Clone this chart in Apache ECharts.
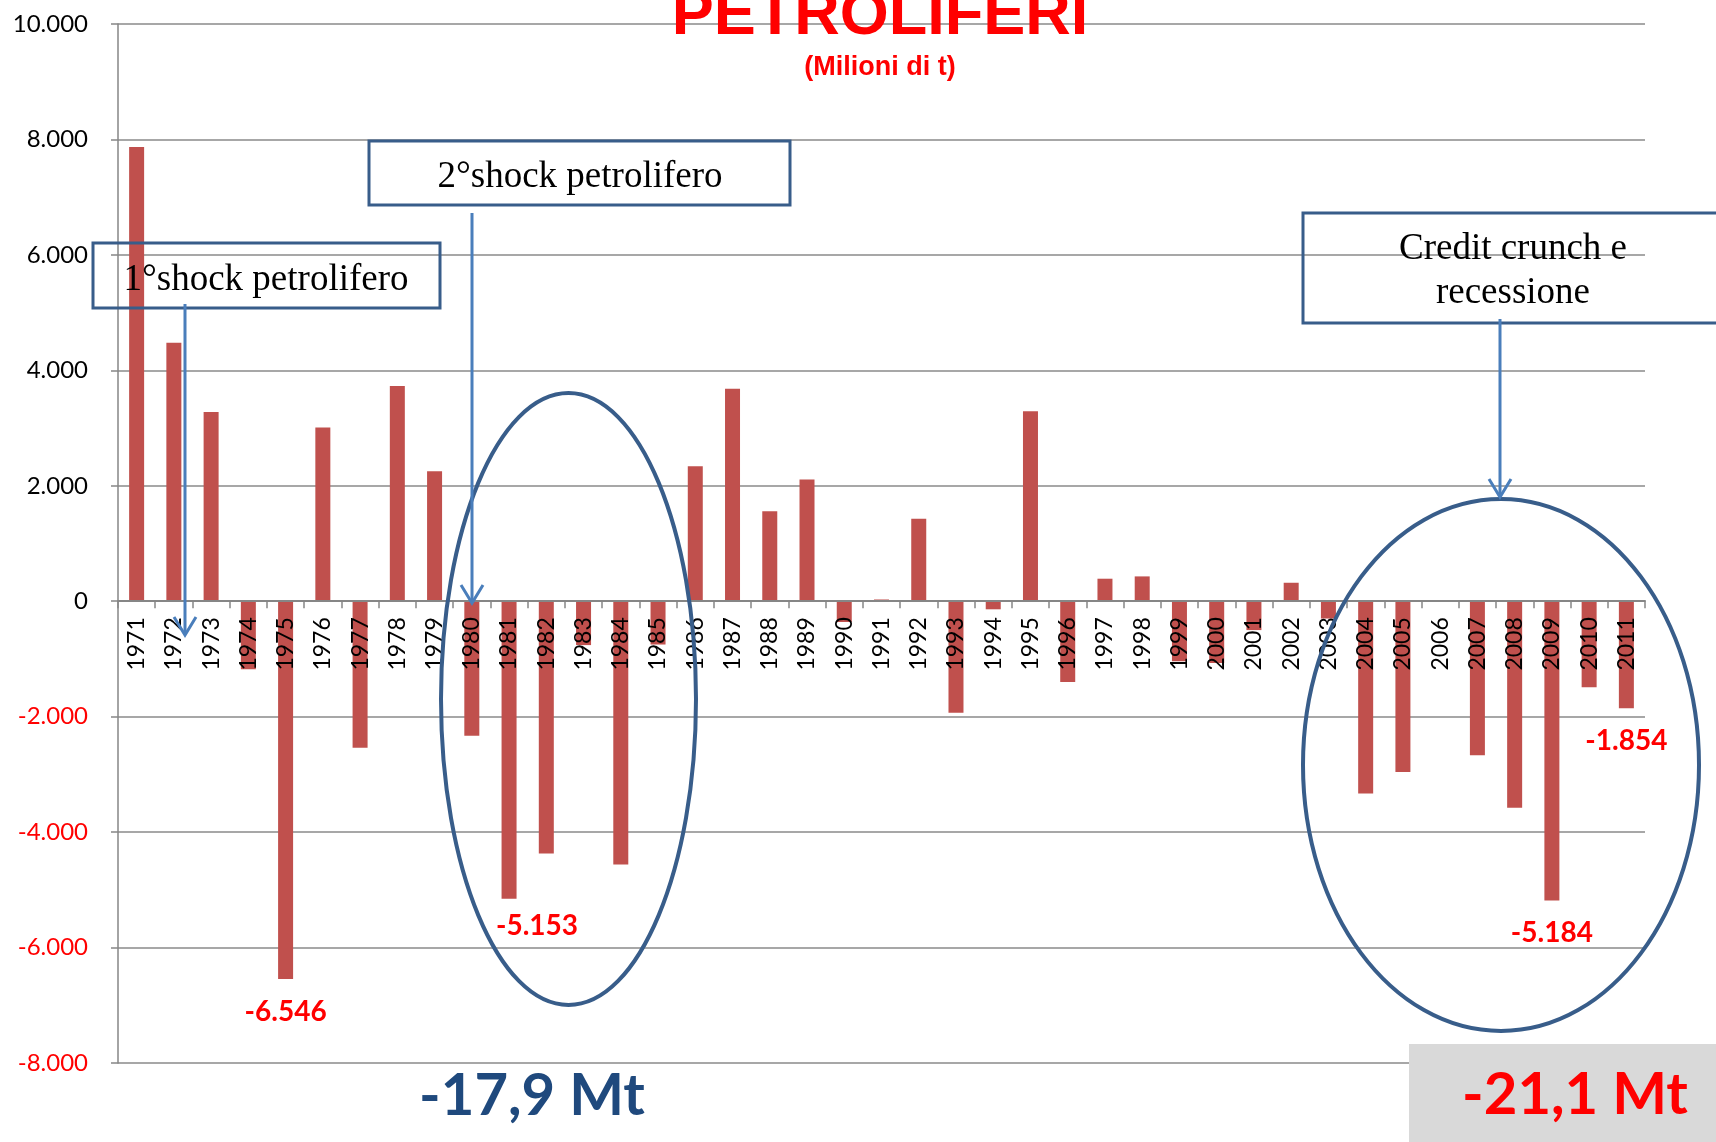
<!DOCTYPE html>
<html>
<head>
<meta charset="utf-8">
<script src="https://cdn.jsdelivr.net/npm/echarts@6/dist/echarts.min.js"></script>
<style>
  html, body { margin: 0; padding: 0; background: #fff; }
  #chart { width: 1716px; height: 1142px; }
</style>
</head>
<body>
<div id="chart"></div>
<script>
// anni (categorie)
var years = ['1971','1972','1973','1974','1975','1976','1977','1978','1979','1980',
  '1981','1982','1983','1984','1985','1986','1987','1988','1989','1990',
  '1991','1992','1993','1994','1995','1996','1997','1998','1999','2000',
  '2001','2002','2003','2004','2005','2006','2007','2008','2009','2010','2011'];
// variazione consumi petroliferi (migliaia di t)
var values = [7870, 4480, 3280, -1180, -6546, 3010, -2540, 3730, 2250, -2330,
  -5153, -4370, -760, -4560, -750, 2340, 3680, 1560, 2110, -360,
  30, 1430, -1930, -140, 3290, -1400, 390, 430, -1040, -1070,
  -500, 320, -300, -3330, -2960, 0, -2670, -3580, -5184, -1490, -1854];
// anni con etichetta del valore
var labelledYears = ['1975', '1981', '2009', '2011'];
var yTicks = { min: -8000, max: 10000, interval: 2000 };

function fmt(v) {
  var s = String(Math.abs(v)).replace(/\B(?=(\d{3})+(?!\d))/g, '.');
  return (v < 0 ? '-' : '') + s;
}

var chart = echarts.init(document.getElementById('chart'));

var labelOffsets = { '1981': [28, -6] };
var barData = values.map(function (v, i) {
  if (labelledYears.indexOf(years[i]) < 0) return v;
  return {
    value: v,
    label: {
      show: true,
      position: 'bottom',
      distance: 19,
      offset: labelOffsets[years[i]] || [0, 0],
      formatter: function (p) { return fmt(p.value); },
      color: '#FF0000',
      fontFamily: 'Lato',
      fontWeight: 'bold',
      fontSize: 28
    }
  };
});

var boxColor = '#385D8A';
var arrowColor = '#4A7EBB';
var serif = '37px "Liberation Serif", "Times New Roman", serif';

function arrow(x, y1, y2) {
  return [
    { type: 'line', z: 100, shape: { x1: x, y1: y1, x2: x, y2: y2 - 1 },
      style: { stroke: arrowColor, lineWidth: 3 } },
    { type: 'polyline', z: 100, shape: { points: [[x - 11, y2 - 18], [x, y2], [x + 11, y2 - 18]] },
      style: { stroke: arrowColor, lineWidth: 3, fill: null } }
  ];
}

var graphics = [
  { type: 'text', z: 101, x: 880, y: 17,
    style: { text: 'PETROLIFERI', font: 'bold 63px "Liberation Sans", Arial, sans-serif',
      fill: '#FF0000', textAlign: 'center', textVerticalAlign: 'middle' } },
  { type: 'text', z: 101, x: 880, y: 68,
    style: { text: '(Milioni di t)', font: 'bold 27px "Liberation Sans", Arial, sans-serif',
      fill: '#FF0000', textAlign: 'center', textVerticalAlign: 'middle' } },

  { type: 'rect', z: 100, shape: { x: 93, y: 243, width: 347, height: 65 },
    style: { fill: null, stroke: boxColor, lineWidth: 3 } },
  { type: 'text', z: 101, x: 266, y: 280,
    style: { text: '1°shock petrolifero', font: serif, fill: '#000',
      textAlign: 'center', textVerticalAlign: 'middle' } },

  { type: 'rect', z: 100, shape: { x: 369, y: 141, width: 421, height: 64 },
    style: { fill: null, stroke: boxColor, lineWidth: 3 } },
  { type: 'text', z: 101, x: 580, y: 177,
    style: { text: '2°shock petrolifero', font: serif, fill: '#000',
      textAlign: 'center', textVerticalAlign: 'middle' } },

  { type: 'rect', z: 100, shape: { x: 1303, y: 213, width: 420, height: 110 },
    style: { fill: null, stroke: boxColor, lineWidth: 3 } },
  { type: 'text', z: 101, x: 1513, y: 271,
    style: { text: 'Credit crunch e\nrecessione', font: serif, fill: '#000', lineHeight: 44,
      textAlign: 'center', textVerticalAlign: 'middle' } },

  { type: 'ellipse', z: 100, shape: { cx: 568.5, cy: 699, rx: 127.5, ry: 306 },
    style: { fill: null, stroke: boxColor, lineWidth: 4 } },
  { type: 'ellipse', z: 100, shape: { cx: 1501, cy: 765, rx: 198, ry: 266 },
    style: { fill: null, stroke: boxColor, lineWidth: 4 } },

  { type: 'rect', z: 100, shape: { x: 1409, y: 1044, width: 307, height: 98 },
    style: { fill: '#D9D9D9' } },
  { type: 'text', z: 101, x: 532, y: 1096,
    style: { text: '-17,9 Mt', font: 'bold 58px Lato, sans-serif', fill: '#1F497D',
      textAlign: 'center', textVerticalAlign: 'middle' } },
  { type: 'text', z: 101, x: 1575, y: 1095,
    style: { text: '-21,1 Mt', font: 'bold 58px Lato, sans-serif', fill: '#FF0000',
      textAlign: 'center', textVerticalAlign: 'middle' } }
].concat(arrow(185, 304, 635), arrow(472, 213, 603), arrow(1500, 319, 497));

var option = {
  animation: false,
  backgroundColor: '#fff',
  grid: { left: 118, right: 71, top: 24, bottom: 79, containLabel: false },
  xAxis: {
    type: 'category',
    data: years,
    z: 10,
    offset: 0,
    axisLine: { onZero: false, lineStyle: { color: '#868686', width: 2 } },
    axisTick: { show: true, length: 7, lineStyle: { color: '#868686', width: 1.5 } },
    axisLabel: {
      interval: 0, rotate: 90, margin: 16,
      color: '#000', fontFamily: 'Lato', fontSize: 23
    },
    splitLine: { show: false }
  },
  yAxis: {
    type: 'value',
    min: yTicks.min, max: yTicks.max, interval: yTicks.interval,
    axisLine: { show: true, lineStyle: { color: '#868686', width: 1.5 } },
    axisTick: { show: true, length: 7, lineStyle: { color: '#868686', width: 1.5 } },
    axisLabel: {
      margin: 30,
      formatter: fmt,
      color: function (v) { return Number(v) < 0 ? '#FF0000' : '#000'; },
      fontFamily: 'Lato', fontSize: 24
    },
    splitLine: { show: true, lineStyle: { color: '#8a8a8a', width: 1.5 } }
  },
  series: [{
    type: 'bar',
    data: barData,
    barWidth: 15,
    itemStyle: { color: '#C0504D' }
  }],
  graphic: { elements: graphics }
};

chart.setOption(option);

// porta l'asse delle categorie (linea, tacche ed etichette) sullo zero
var zeroY = chart.convertToPixel({ yAxisIndex: 0 }, 0);
var bottomY = chart.convertToPixel({ yAxisIndex: 0 }, yTicks.min);
chart.setOption({ xAxis: { offset: zeroY - bottomY } });

window.addEventListener('resize', chart.resize);
</script>
</body>
</html>
